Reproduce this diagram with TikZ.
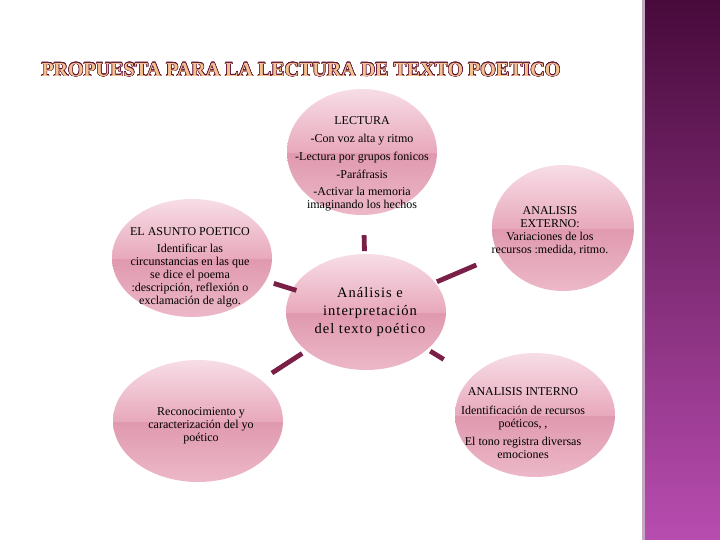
\documentclass[tikz,border=0pt]{standalone}
\usepackage{fontspec}
\setmainfont{Liberation Serif}
\usepackage{contour}
\usetikzlibrary{calc,shapes.geometric}
\definecolor{vino}{HTML}{7A2046}
\definecolor{rosaA}{HTML}{F7DDE6}
\definecolor{rosaB}{HTML}{E8A9BC}
\definecolor{rosaC}{HTML}{E099AF}
\definecolor{rosaD}{HTML}{ECB8C8}
\definecolor{lilaA}{HTML}{480A3B}
\definecolor{lilaB}{HTML}{B84DB0}
\definecolor{lilaC}{HTML}{C2A9C0}
\definecolor{durazno}{HTML}{F5C190}
\definecolor{borde}{HTML}{5A1132}
\pgfdeclareverticalshading{burbuja}{100bp}{color(0bp)=(rosaD); color(25bp)=(rosaD); color(49.7bp)=(rosaC); color(50bp)=(rosaB); color(75bp)=(rosaA); color(100bp)=(rosaA)}
\contourlength{0.5pt}
\begin{document}
\begin{tikzpicture}[x=1pt,y=-1pt, line join=round,
	bubble/.style={ellipse, shading=burbuja, inner sep=0pt},
	txt/.style={align=center, inner sep=0pt, font=\fontsize{12}{13}\selectfont},
	link/.style={vino, line width=4.8pt}]
	\useasboundingbox (0,0) rectangle (720,540);
	%Franja lateral
	\fill[lilaC] (642,0) rectangle (645,540);
	\shade[top color=lilaA, bottom color=lilaB] (645,0) rectangle (720,540);
	
	\node (titulo) at (301,70) {\fontsize{20}{21}\selectfont\bfseries\contour{borde}{\textcolor{durazno}{PROPUESTA PARA LA LECTURA DE TEXTO POETICO}}};
	
	%Burbujas
	\node[bubble, minimum width=150pt, minimum height=126pt] (lect) at (362,152) {};
	\node[bubble, minimum width=160pt, minimum height=118pt] (asun) at (192,258) {};
	\node[bubble, minimum width=142pt, minimum height=126pt] (ext) at (563,228) {};
	\node[bubble, minimum width=160pt, minimum height=116pt] (ctr) at (366,312) {};
	\node[bubble, minimum width=160pt, minimum height=124pt] (int) at (535,415) {};
	\node[bubble, minimum width=170pt, minimum height=122pt] (yo) at (198,421) {};
	
	%Textos
	\node[txt] (lectT) at (362,164) {LECTURA\\[5pt] -Con voz alta  y ritmo\\[5pt] -Lectura  por grupos fonicos\\[5pt] -Paráfrasis\\[4pt] -Activar  la memoria\\ imaginando  los hechos};
	\node[txt] (asunT) at (190,267) {EL ASUNTO POETICO\\[4pt] Identificar las\\ circunstancias  en las que\\ se dice el poema\\ :descripción, reflexión o\\ exclamación de  algo.};
	\node[txt] (extT) at (550,230.5) {ANALISIS\\ EXTERNO:\\ Variaciones  de  los\\ recursos :medida, ritmo.};
	\node[txt, font=\fontsize{14.5}{18}\selectfont\addfontfeatures{LetterSpace=7}] (ctrT) at (370,312) {Análisis e\\ interpretación\\ del texto poético};
	\node[txt] (intT) at (523,423) {ANALISIS INTERNO\\[6pt] Identificación de recursos\\ poéticos, ,\\[5pt] El tono  registra diversas\\ emociones};
	\node[txt] (yoT) at (201,426) {Reconocimiento y\\ caracterización del yo\\ poético};
	
	%Conectores
	\draw[link] ($(ctr)!.38!(lect)$) -- ($(ctr)!.48!(lect)$);
	\draw[link] ($(ctr)!.40!(asun)$) -- ($(ctr)!.53!(asun)$);
	\draw[link] ($(ctr)!.36!(ext)$) -- ($(ctr)!.56!(ext)$);
	\draw[link] ($(ctr)!.38!(int)$) -- ($(ctr)!.46!(int)$);
	\draw[link] ($(ctr)!.38!(yo)$) -- ($(ctr)!.56!(yo)$);
\end{tikzpicture}
\end{document}
